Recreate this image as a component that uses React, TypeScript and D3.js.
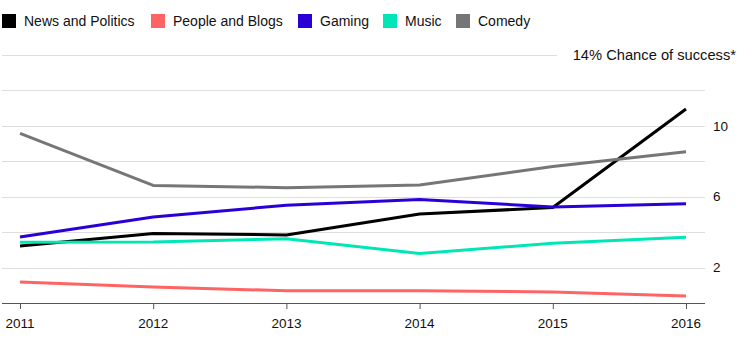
import React from "react";
import * as d3 from "d3";

const years = [2011, 2012, 2013, 2014, 2015, 2016];
const seriesNames = ["News and Politics", "People and Blogs", "Gaming", "Music", "Comedy"];
const seriesColors = ["#000000", "#ff6464", "#2a00d6", "#00e6b6", "#767676"];
const newsValues = [3.22, 3.93, 3.84, 5.02, 5.39, 10.95];
const peopleValues = [1.19, 0.9, 0.69, 0.69, 0.62, 0.4];
const gamingValues = [3.73, 4.86, 5.52, 5.84, 5.42, 5.6];
const musicValues = [3.43, 3.44, 3.63, 2.8, 3.37, 3.71];
const comedyValues = [9.58, 6.64, 6.51, 6.66, 7.7, 8.54];
const gridValues = [2, 4, 6, 8, 10, 12, 14];
const yLabelValues = [2, 6, 10];
const annotation = "14% Chance of success*";

const allSeries = [newsValues, peopleValues, gamingValues, musicValues, comedyValues];
const legendX = [2, 151, 298, 383, 456];

export default function App() {
  const W = 741;
  const H = 351;
  const x = d3.scaleLinear().domain([2011, 2016]).range([20, 686]);
  const y = d3.scaleLinear().domain([0, 14]).range([303, 55]);
  const line = d3
    .line<number>()
    .x((_, i) => x(years[i]))
    .y((d) => y(d));
  const font = "'Liberation Sans', Arial, Helvetica, sans-serif";

  return (
    <svg
      width={W}
      height={H}
      style={{ position: "absolute", left: 0, top: 0, background: "#fff" }}
      fontFamily={font}
    >
      {seriesNames.map((name, i) => (
        <g key={name}>
          <rect x={legendX[i]} y={14} width={14} height={14} fill={seriesColors[i]} />
          <text x={legendX[i] + 22} y={26} fontSize={14} fill="#111">
            {name}
          </text>
        </g>
      ))}
      {gridValues.map((v) => (
        <line
          key={v}
          x1={2}
          x2={v === 14 ? 557 : 705}
          y1={Math.round(y(v)) + 0.5}
          y2={Math.round(y(v)) + 0.5}
          stroke="#dedede"
          strokeWidth={1}
        />
      ))}
      <text x={736} y={y(14)} dy="0.35em" textAnchor="end" fontSize={14.7} fill="#111">
        {annotation}
      </text>
      {yLabelValues.map((v) => (
        <text key={v} x={713} y={y(v)} dy="0.35em" fontSize={13.5} fill="#111">
          {v}
        </text>
      ))}
      <line x1={2} x2={705} y1={303.5} y2={303.5} stroke="#555" strokeWidth={1} />
      {years.map((yr) => (
        <g key={yr}>
          <line x1={x(yr) + 0.5} x2={x(yr) + 0.5} y1={303} y2={309} stroke="#555" />
          <text x={x(yr)} y={328} textAnchor="middle" fontSize={13.5} fill="#111">
            {yr}
          </text>
        </g>
      ))}
      {allSeries.map((vals, i) => (
        <path
          key={seriesNames[i]}
          d={line(vals) || ""}
          fill="none"
          stroke={seriesColors[i]}
          strokeWidth={3}
          strokeLinejoin="round"
        />
      ))}
    </svg>
  );
}
